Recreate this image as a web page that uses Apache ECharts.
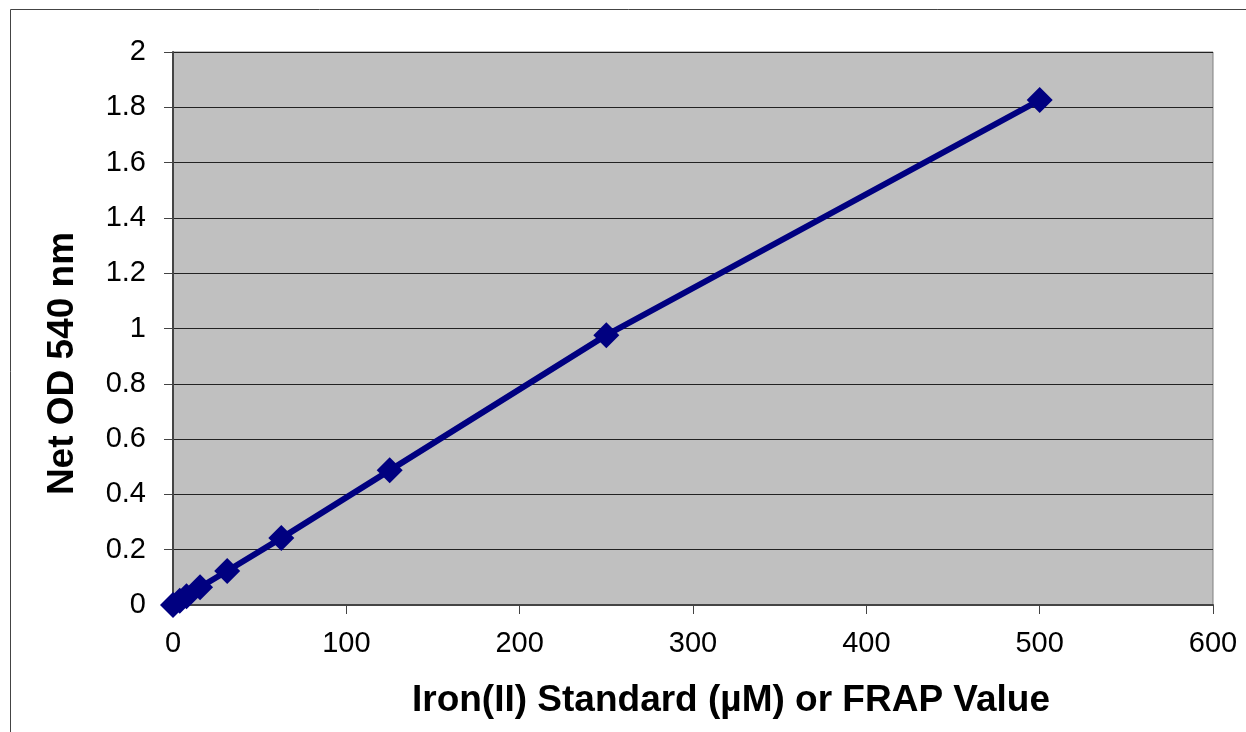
<!DOCTYPE html>
<html>
<head>
<meta charset="utf-8">
<script src="https://cdn.jsdelivr.net/npm/echarts@6/dist/echarts.min.js"></script>
<style>
  html, body { margin: 0; padding: 0; background: #fff; }
  #chart { width: 1246px; height: 732px; }
</style>
</head>
<body>
<div id="chart"></div>
<script>
// Iron(II) standard concentrations (µM) and net OD at 540 nm
let ironConc = [0, 3.9, 7.8, 15.6, 31.25, 62.5, 125, 250, 500];
let netOD = [0, 0.015, 0.032, 0.064, 0.123, 0.242, 0.487, 0.976, 1.826];
let xTicks = [0, 100, 200, 300, 400, 500, 600];
let yTicks = [0, 0.2, 0.4, 0.6, 0.8, 1, 1.2, 1.4, 1.6, 1.8, 2];

let points = ironConc.map((x, i) => [x, netOD[i]]);

let myChart = echarts.init(document.getElementById('chart'));
let font = 'Liberation Sans, Arial, sans-serif';

myChart.setOption({
  animation: false,
  textStyle: { fontFamily: font },
  graphic: [{
    type: 'rect',
    shape: { x: 10.5, y: 9.5, width: 1300, height: 800 },
    style: { fill: 'none', stroke: '#444', lineWidth: 1 },
    silent: true
  }],
  grid: {
    left: 173, top: 52, right: 33, bottom: 127,
    show: true,
    backgroundColor: '#c0c0c0',
    borderColor: '#808080',
    borderWidth: 1
  },
  xAxis: {
    type: 'value',
    min: 0, max: 600, interval: 100,
    name: 'Iron(II) Standard (µM) or FRAP Value',
    nameLocation: 'middle',
    nameGap: 77,
    nameTextStyle: { fontSize: 37, fontWeight: 'bold', color: '#000', fontFamily: font,
                     padding: [0, 0, 0, 76] },
    axisLine: { show: true, onZero: false, lineStyle: { color: '#444', width: 2 } },
    axisTick: { show: true, inside: false, length: 9, lineStyle: { color: '#444' } },
    axisLabel: { fontSize: 29, color: '#000', margin: 24, fontFamily: font,
                 formatter: v => xTicks.includes(v) ? String(v) : '' },
    splitLine: { show: false }
  },
  yAxis: {
    type: 'value',
    min: 0, max: 2, interval: 0.2,
    name: 'Net OD 540 nm',
    nameLocation: 'middle',
    nameGap: 92,
    nameRotate: 90,
    nameTextStyle: { fontSize: 37, fontWeight: 'bold', color: '#000', fontFamily: font,
                     padding: [0, 70, 0, 0] },
    axisLine: { show: true, onZero: false, lineStyle: { color: '#444', width: 2 } },
    axisTick: { show: true, inside: false, length: 9, lineStyle: { color: '#444' } },
    axisLabel: { fontSize: 29, color: '#000', margin: 27, fontFamily: font,
                 formatter: v => {
                   let t = yTicks.find(y => Math.abs(y - v) < 1e-9);
                   return t === undefined ? '' : String(t);
                 } },
    splitLine: { show: true, lineStyle: { color: '#222', width: 1 } }
  },
  series: [{
    type: 'line',
    data: points,
    symbol: 'diamond',
    symbolSize: 26,
    lineStyle: { color: '#000080', width: 6 },
    itemStyle: { color: '#000080' }
  }]
});
</script>
</body>
</html>
